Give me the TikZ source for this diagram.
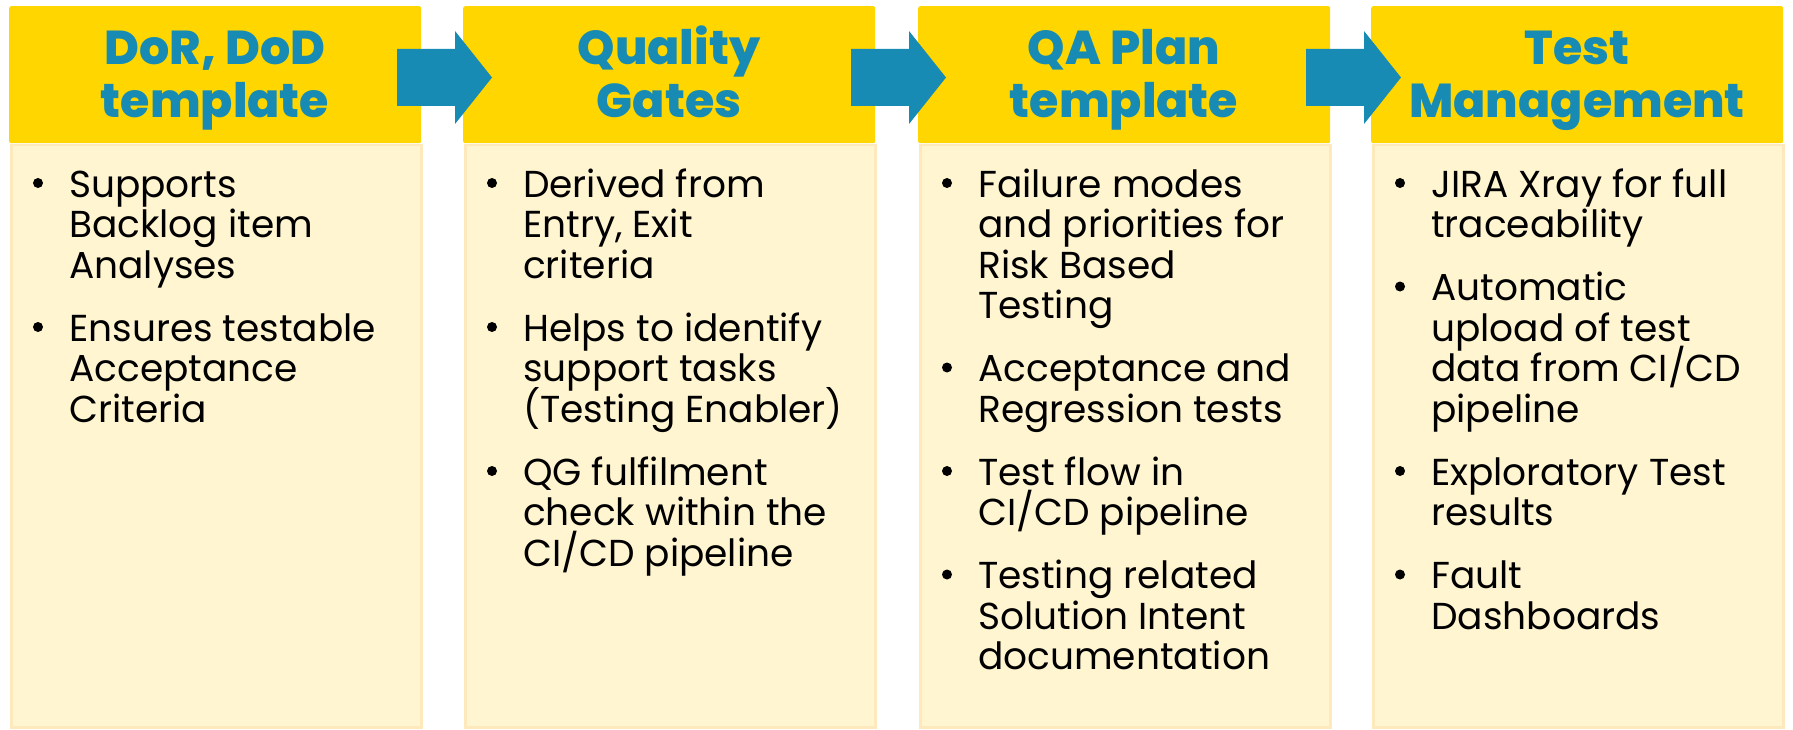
\documentclass[tikz,border=0pt]{standalone}
\usepackage{fontspec}
\setmainfont{Poppins}
\newfontfamily\hdrfont{Poppins ExtraBold}
\definecolor{hdr}{RGB}{255,214,0}
\definecolor{bodyfill}{RGB}{255,245,209}
\definecolor{bodyline}{RGB}{253,233,188}
\definecolor{blu}{RGB}{23,139,180}
\tikzset{
  hdrbox/.style={fill=hdr, draw=none, rounded corners=2pt, anchor=north west, minimum width=412pt, minimum height=137pt, inner sep=0pt},
  bodybox/.style={fill=bodyfill, draw=bodyline, line width=2.5pt, anchor=north west, minimum width=410pt, minimum height=582pt, inner sep=0pt},
  hdrtxt/.style={anchor=base, inner sep=0pt, text=blu, font=\fontsize{47.5}{53}\selectfont\hdrfont},
  bodytxt/.style={anchor=base west, inner sep=0pt, text=black, font=\fontsize{37.5}{40}\selectfont},
  blockarrow/.style={fill=blu, draw=none}
}
\newcommand\bl[4]{\node[bodytxt] (#1) at (#2-2,#3) {#4};}
\newcommand\bu[2]{\fill (#1-1,#2) ++(0,-14) circle (5);}
\begin{document}
\begin{tikzpicture}[x=1pt,y=-1pt]
\useasboundingbox (0,0) rectangle (1793,730);
% columns
\foreach \L/\n in {9/1,463/2,918/3,1371/4}{
  \node[bodybox] (b\n) at (\L+1,144) {};
  \node[hdrbox] (h\n) at (\L,6) {};
}
% arrows
\foreach \i/\X in {1/421,2/875,3/1330}{
  \coordinate (a\i) at (\X,77.5);
  \fill[blockarrow] (a\i) ++(-24,-28.5) -- ++(58,0) -- ++(0,-18) -- ++(37,46.5) -- ++(-37,46.5) -- ++(0,-18) -- ++(-58,0) -- cycle;
}
% headers
\node[hdrtxt] (t1a) at (215,65) {DoR, DoD};
\node[hdrtxt] (t1b) at (215,118) {template};
\node[hdrtxt] (t2a) at (669,65) {Quality};
\node[hdrtxt] (t2b) at (669,118) {Gates};
\node[hdrtxt] (t3a) at (1124,65) {QA Plan};
\node[hdrtxt] (t3b) at (1124,118) {template};
\node[hdrtxt] (t4a) at (1577,65) {Test};
\node[hdrtxt] (t4b) at (1577,118) {Management};
% column 1
\bu{39}{197}
\bl{c1a}{71}{197}{Supports}
\bl{c1b}{71}{237.5}{Backlog item}
\bl{c1c}{71}{278}{Analyses}
\bu{39}{341}
\bl{c1d}{71}{341}{Ensures testable}
\bl{c1e}{71}{381.5}{Acceptance}
\bl{c1f}{71}{422}{Criteria}
% column 2
\bu{493}{197}
\bl{c2a}{525}{197}{Derived from}
\bl{c2b}{525}{237.5}{Entry, Exit}
\bl{c2c}{525}{278}{criteria}
\bu{493}{341}
\bl{c2d}{525}{341}{Helps to identify}
\bl{c2e}{525}{381.5}{support tasks}
\bl{c2f}{525}{422}{(Testing Enabler)}
\bu{493}{485}
\bl{c2g}{525}{485}{QG fulfilment}
\bl{c2h}{525}{525.5}{check within the}
\bl{c2i}{525}{566}{CI/CD pipeline}
% column 3
\bu{948}{197}
\bl{c3a}{980}{197}{Failure modes}
\bl{c3b}{980}{237.5}{and priorities for}
\bl{c3c}{980}{278}{Risk Based}
\bl{c3d}{980}{318.5}{Testing}
\bu{948}{381.5}
\bl{c3e}{980}{381.5}{Acceptance and}
\bl{c3f}{980}{422}{Regression tests}
\bu{948}{485}
\bl{c3g}{980}{485}{Test flow in}
\bl{c3h}{980}{525.5}{CI/CD pipeline}
\bu{948}{588.5}
\bl{c3i}{980}{588.5}{Testing related}
\bl{c3j}{980}{629}{Solution Intent}
\bl{c3k}{980}{669.5}{documentation}
% column 4
\bu{1401}{197}
\bl{c4a}{1433}{197}{JIRA Xray for full}
\bl{c4b}{1433}{237.5}{traceability}
\bu{1401}{300.5}
\bl{c4c}{1433}{300.5}{Automatic}
\bl{c4d}{1433}{341}{upload of test}
\bl{c4e}{1433}{381.5}{data from CI/CD}
\bl{c4f}{1433}{422}{pipeline}
\bu{1401}{485}
\bl{c4g}{1433}{485}{Exploratory Test}
\bl{c4h}{1433}{525.5}{results}
\bu{1401}{588.5}
\bl{c4i}{1433}{588.5}{Fault}
\bl{c4j}{1433}{629}{Dashboards}
\end{tikzpicture}
\end{document}
